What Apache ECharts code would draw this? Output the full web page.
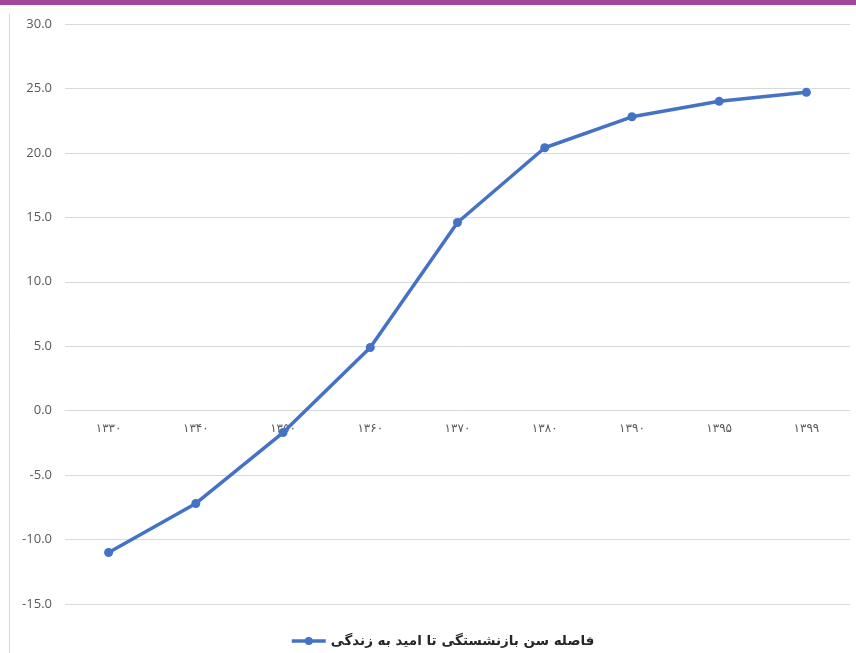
<!DOCTYPE html>
<html>
<head>
<meta charset="utf-8">
<script src="https://cdn.jsdelivr.net/npm/echarts@6/dist/echarts.min.js"></script>
<style>
  html, body { margin: 0; padding: 0; background: #fff; }
  #chart { width: 856px; height: 653px; }
</style>
</head>
<body>
<div id="chart"></div>
<script>
// Years (Solar Hijri), written with Persian digits
const categories = ['۱۳۳۰', '۱۳۴۰', '۱۳۵۰', '۱۳۶۰', '۱۳۷۰', '۱۳۸۰', '۱۳۹۰', '۱۳۹۵', '۱۳۹۹'];
// Gap between retirement age and life expectancy (years)
const gapValues = [-11.0, -7.2, -1.7, 4.9, 14.6, 20.4, 22.8, 24.0, 24.7];
const seriesName = 'فاصله سن بازنشستگی تا امید به زندگی';

const chart = echarts.init(document.getElementById('chart'));
const textColor = '#595959';
const fontFam = '"Open Sans", "DejaVu Sans", sans-serif';

// plot area: value range -15..30 over 580px; category axis sits on the zero line
const gridTop = 24, gridBottom = 49, plotH = 653 - gridTop - gridBottom;
const yMin = -15, yMax = 30;
const zeroOffset = plotH * (0 - yMin) / (yMax - yMin);

chart.setOption({
  animation: false,
  backgroundColor: '#fff',
  graphic: [
    { type: 'rect', shape: { x: 0, y: 0, width: 856, height: 5 }, style: { fill: '#a0479a' } },
    { type: 'line', shape: { x1: 9.5, y1: 14, x2: 9.5, y2: 653 }, style: { stroke: '#d9d9d9', lineWidth: 1 } }
  ],
  grid: { left: 65, right: 6, top: gridTop, bottom: gridBottom, containLabel: false },
  legend: {
    bottom: 0,
    left: 285,
    itemWidth: 34,
    itemHeight: 10,
    itemGap: 6,
    lineStyle: { width: 3.5 },
    textStyle: { color: '#262626', fontSize: 13.5, fontWeight: 'bold', fontFamily: '"DejaVu Sans", sans-serif' },
    data: [seriesName]
  },
  xAxis: {
    type: 'category',
    data: categories,
    boundaryGap: true,
    offset: -zeroOffset,
    axisLine: { onZero: false, lineStyle: { color: '#d9d9d9', width: 1 } },
    axisTick: { show: false },
    axisLabel: { color: textColor, fontSize: 12, margin: 12, fontFamily: '"DejaVu Sans", sans-serif' }
  },
  yAxis: {
    type: 'value',
    min: yMin,
    max: yMax,
    interval: 5,
    axisLine: { show: false },
    axisTick: { show: false },
    splitLine: { lineStyle: { color: '#d9d9d9', width: 1 } },
    axisLabel: {
      color: textColor,
      fontSize: 13,
      margin: 13,
      fontFamily: fontFam,
      formatter: v => v.toFixed(1)
    }
  },
  series: [{
    name: seriesName,
    type: 'line',
    data: gapValues,
    symbol: 'circle',
    symbolSize: 9,
    lineStyle: { color: '#4472c4', width: 3.5 },
    itemStyle: { color: '#4472c4' }
  }]
});
</script>
</body>
</html>
